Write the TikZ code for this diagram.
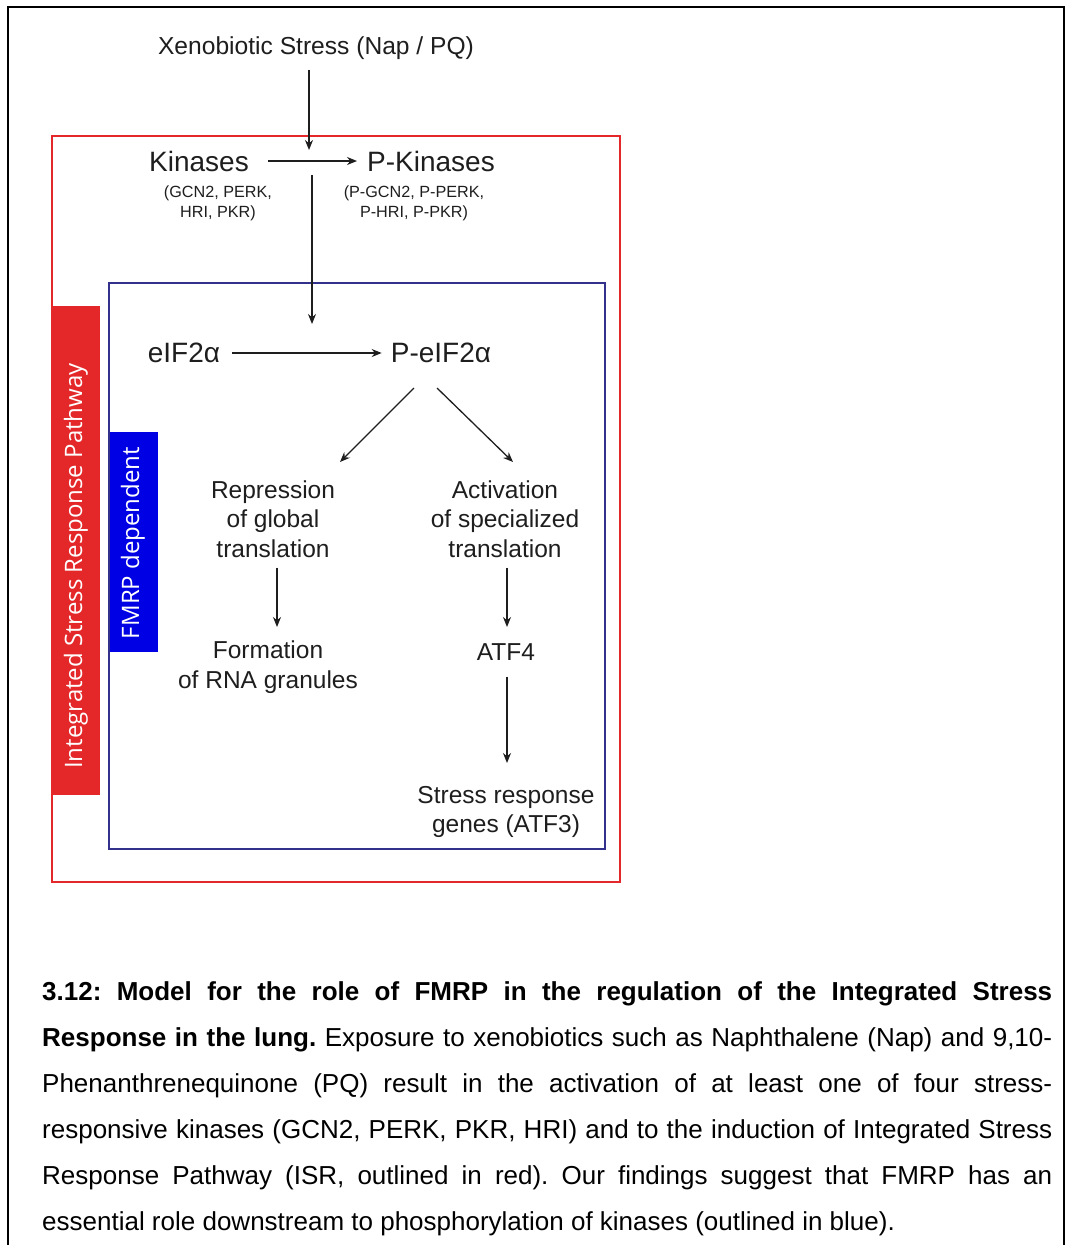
\documentclass[tikz,border=0pt]{standalone}
\usepackage{fontspec}
\setmainfont{Liberation Sans}
\newfontfamily\bannerfont{Open Sans}
\usetikzlibrary{arrows.meta}
\definecolor{isrred}{RGB}{228,40,42}
\definecolor{fmrpblue}{RGB}{0,0,228}
\definecolor{navy}{RGB}{50,50,140}
\definecolor{ink}{RGB}{30,30,30}
\frenchspacing
\tikzset{
  big/.style={inner sep=0pt, text=ink, font=\fontsize{28}{34}\selectfont},
  mid/.style={inner sep=0pt, text=ink, align=center, font=\fontsize{24.5}{29.5}\selectfont},
  small/.style={inner sep=0pt, text=ink, align=center, font=\fontsize{16.2}{20}\selectfont},
  flow/.style={draw=ink, line width=1.3pt, -{Stealth[length=10pt,width=8pt]}},
  capline/.style={inner sep=0pt, anchor=base west, text=black, font=\fontsize{26}{30}\selectfont},
  banner/.style={inner sep=0pt, text=white, rotate=90, font=\bannerfont\fontsize{24}{28}\selectfont}
}
\begin{document}
\begin{tikzpicture}[x=1pt,y=-1pt]
\useasboundingbox (0,0) rectangle (1066,1245);
% outer frame (open at bottom)
\draw[line width=2pt, black] (8,1245) -- (8,7) -- (1064,7) -- (1064,1245);
% ISR red box
\draw[isrred, line width=1.5pt] (52,136) rectangle (620,882);
\fill[isrred] (52,306) rectangle (100,795);
\node[banner] (isr) at (76,566) {Integrated Stress Response Pathway};
% FMRP blue box
\draw[navy, line width=1.2pt] (109,283) rectangle (605,849);
\fill[fmrpblue] (110,432) rectangle (158,652);
\node[banner] (fmrp) at (133,543) {FMRP dependent};

% nodes
\node[inner sep=0pt, text=ink, font=\fontsize{24.6}{30}\selectfont] (xeno) at (316,48) {Xenobiotic Stress (Nap / PQ)};
\node[big] (kin) at (199,161) {Kinases};
\node[big] (pkin) at (431,161) {P-Kinases};
\node[small] (kinl) at (218,203) {(GCN2, PERK,\\ HRI, PKR)};
\node[small] (pkinl) at (414,203) {(P-GCN2, P-PERK,\\ P-HRI, P-PKR)};
\node[big] (eif) at (184,353) {eIF2α};
\node[big] (peif) at (441,353) {P-eIF2α};
\node[mid] (rep) at (273,519) {Repression\\of global\\translation};
\node[mid] (act) at (505,519) {Activation\\of specialized\\translation};
\node[mid] (form) at (268,667) {Formation\\of RNA granules};
\node[mid] (atf4) at (506,652) {ATF4};
\node[mid] (genes) at (506,812) {Stress response\\genes (ATF3)};

% connectors
\coordinate (kinhit) at (309,150);
\coordinate (pkstart) at (312,175);
\coordinate (eiftop) at (312,324);
\draw[flow] (kin.east) ++(19,0) coordinate (k1) -- (pkin.west -| 357,0);
\draw[flow] (xeno.south -| kinhit) ++(0,10) -- (kinhit);
\draw[flow] (pkstart) -- (eiftop);
\draw[flow] (eif.east) ++(12,0) -- ([xshift=-9pt]peif.west);
\draw[flow] (414,388) -- (340,462);
\draw[flow] (437,388) -- (513,462);
\draw[flow] (rep.south -| 277,0) ++(0,10) -- (277,627);
\draw[flow] (act.south -| 507,0) ++(0,10) -- (507,627);
\draw[flow] (atf4.south -| 507,0) ++(0,16) -- (507,763);

% caption
\node[capline] (c1) at (42,1000) {\makebox[1010pt][s]{\bfseries 3.12: Model for the role of FMRP in the regulation of the Integrated Stress}};
\node[capline] (c2) at (42,1046) {\makebox[1010pt][s]{\bfseries Response in the lung.\mdseries{} Exposure to xenobiotics such as Naphthalene (Nap) and 9,10-}};
\node[capline] (c3) at (42,1092) {\makebox[1010pt][s]{Phenanthrenequinone (PQ) result in the activation of at least one of four stress-}};
\node[capline] (c4) at (42,1138) {\makebox[1010pt][s]{responsive kinases (GCN2, PERK, PKR, HRI) and to the induction of Integrated Stress}};
\node[capline] (c5) at (42,1184) {\makebox[1010pt][s]{Response Pathway (ISR, outlined in red). Our findings suggest that FMRP has an}};
\node[capline] (c6) at (42,1230) {essential role downstream to phosphorylation of kinases (outlined in blue).};
\end{tikzpicture}
\end{document}
